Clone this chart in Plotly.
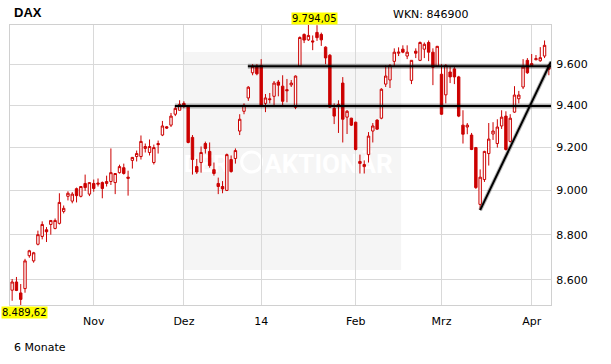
import math
import pandas as pd
import plotly.graph_objects as go

# ---- data -------------------------------------------------------------
holidays = ["2013-12-24", "2013-12-25", "2013-12-26", "2013-12-31", "2014-01-01"]
dates = [d.strftime("%Y-%m-%d") for d in pd.bdate_range("2013-10-07", "2014-04-07")
         if d.strftime("%Y-%m-%d") not in holidays]

opens = [8554, 8590, 8542, 8561, 8706, 8683, 8757, 8792, 8822, 8846,
         8828, 8851, 8905, 8974, 8952, 9009, 8974, 9033, 8984, 9033,
         9035, 9037, 9033, 9042, 9037, 9083, 9106, 9062, 9140, 9158,
         9158, 9196, 9177, 9130, 9219, 9259, 9298, 9306, 9358, 9377,
         9410, 9397, 9248, 9111, 9130, 9219, 9182, 9097, 9033, 9019,
         9001, 9144, 9149, 9278, 9372, 9436, 9558, 9590, 9594, 9410,
         9432, 9444, 9513, 9493, 9476, 9499, 9391, 9590, 9747, 9720,
         9715, 9757, 9747, 9684, 9644, 9386, 9405, 9508, 9344, 9339,
         9320, 9135, 9111, 9167, 9278, 9330, 9339, 9503, 9523, 9614,
         9654, 9674, 9640, 9521, 9664, 9619, 9674, 9707, 9659, 9590,
         9551, 9451, 9562, 9577, 9538, 9306, 9297, 9259, 9200, 8937,
         9051, 9172, 9264, 9219, 9302, 9349, 9229, 9368, 9432, 9489,
         9619, 9594, 9622, 9617, 9640, 9594]
highs = [8603, 8612, 8581, 8692, 8732, 8723, 8818, 8860, 8834, 8866,
         8873, 8988, 8932, 8997, 8993, 9014, 9019, 9074, 9038, 9051,
         9056, 9042, 9069, 9196, 9079, 9120, 9125, 9092, 9156, 9186,
         9257, 9219, 9238, 9214, 9233, 9326, 9302, 9364, 9396, 9425,
         9420, 9400, 9259, 9147, 9205, 9228, 9224, 9130, 9060, 9044,
         9172, 9163, 9196, 9358, 9410, 9493, 9600, 9600, 9625, 9455,
         9460, 9518, 9523, 9546, 9528, 9523, 9545, 9737, 9752, 9794.05,
         9742, 9793, 9756, 9688, 9650, 9410, 9425, 9537, 9378, 9341,
         9322, 9167, 9140, 9273, 9316, 9334, 9483, 9594, 9600, 9678,
         9683, 9693, 9693, 9619, 9678, 9712, 9707, 9717, 9678, 9690,
         9600, 9600, 9586, 9586, 9543, 9377, 9316, 9269, 9203, 9098,
         9185, 9316, 9320, 9334, 9377, 9372, 9358, 9493, 9470, 9625,
         9630, 9650, 9645, 9684, 9717, 9600]
lows = [8508, 8550, 8489.62, 8543, 8697, 8675, 8752, 8779, 8767, 8800,
        8824, 8846, 8896, 8955, 8942, 8946, 8969, 8999, 8975, 8995,
        9019, 8965, 9019, 9026, 8984, 9079, 9074, 8977, 9102, 9135,
        9144, 9177, 9163, 9121, 9172, 9254, 9288, 9297, 9349, 9377,
        9387, 9220, 9074, 9077, 9083, 9172, 9106, 9069, 8984, 8988,
        8998, 9083, 9125, 9259, 9358, 9422, 9546, 9546, 9394, 9368,
        9410, 9400, 9444, 9396, 9415, 9489, 9382, 9586, 9704, 9715,
        9669, 9715, 9690, 9600, 9388, 9311, 9269, 9224, 9264, 9302,
        9187, 9079, 9079, 9130, 9224, 9283, 9334, 9489, 9484, 9590,
        9640, 9654, 9625, 9503, 9630, 9615, 9630, 9615, 9498, 9586,
        9355, 9410, 9508, 9503, 9344, 9219, 9263, 9188, 9008, 8913,
        9040, 9116, 9236, 9200, 9288, 9186, 9224, 9365, 9410, 9479,
        9553, 9590, 9619, 9612, 9630, 9546]
closes = [8590, 8553, 8514, 8683, 8728, 8719, 8800, 8846, 8813, 8864,
          8864, 8946, 8919, 8988, 8984, 8977, 9019, 9014, 9037, 9010,
          9030, 9010, 9042, 9083, 9079, 9111, 9079, 9057, 9154, 9172,
          9229, 9205, 9205, 9200, 9214, 9302, 9292, 9349, 9386, 9405,
          9401, 9224, 9144, 9086, 9177, 9196, 9116, 9079, 9019, 9008,
          9167, 9088, 9186, 9334, 9401, 9488, 9590, 9553, 9396, 9436,
          9428, 9508, 9498, 9420, 9471, 9508, 9542, 9732, 9719, 9742,
          9710, 9731, 9720, 9631, 9392, 9349, 9396, 9334, 9372, 9306,
          9191, 9126, 9121, 9254, 9302, 9287, 9478, 9542, 9594, 9659,
          9659, 9659, 9659, 9619, 9654, 9707, 9698, 9659, 9585, 9688,
          9358, 9594, 9538, 9538, 9349, 9263, 9306, 9191, 9014, 9062,
          9182, 9240, 9278, 9297, 9344, 9191, 9339, 9450, 9450, 9586,
          9558, 9603, 9627, 9632, 9693, 9575]

month_starts = ["2013-11-01", "2013-12-02", "2014-01-02", "2014-02-03", "2014-03-03", "2014-04-01"]
month_labels = ["Nov", "Dez", "14", "Feb", "Mrz", "Apr"]
y_ticks = [8600, 8800, 9000, 9200, 9400, 9600]
y_tick_labels = ["8.600", "8.800", "9.000", "9.200", "9.400", "9.600"]

# drawn analysis lines (level, start position in trading-day index)
resistance_levels = [9590, 9397]
resistance_starts = [54.9, 37.9]
trend_x = [109.0, 125.5]
trend_y = [8911, 9612]

# ---- figure -----------------------------------------------------------
idx = list(range(len(dates)))
RED = "#cc0000"
FONT = "DejaVu Sans"
y_min, y_max = min(lows), max(highs)


def de_num(v):
    return f"{v:,.2f}".replace(",", "X").replace(".", ",").replace("X", ".")


fig = go.Figure()
fig.add_trace(go.Candlestick(
    x=idx, open=opens, high=highs, low=lows, close=closes,
    increasing=dict(line=dict(color=RED, width=1), fillcolor="white"),
    decreasing=dict(line=dict(color=RED, width=1), fillcolor=RED),
    whiskerwidth=0, showlegend=False, hoverinfo="skip"))

x_end = len(dates) - 0.5
for lvl, st in zip(resistance_levels, resistance_starts):
    fig.add_trace(go.Scatter(x=[st, x_end], y=[lvl, lvl], mode="lines",
                             line=dict(color="rgba(0,0,0,0.28)", width=5),
                             showlegend=False, hoverinfo="skip"))
    fig.add_trace(go.Scatter(x=[st, x_end], y=[lvl, lvl], mode="lines",
                             line=dict(color="black", width=2),
                             showlegend=False, hoverinfo="skip"))
fig.add_trace(go.Scatter(x=trend_x, y=trend_y, mode="lines",
                         line=dict(color="rgba(0,0,0,0.28)", width=4),
                         showlegend=False, hoverinfo="skip"))
fig.add_trace(go.Scatter(x=trend_x, y=trend_y, mode="lines",
                         line=dict(color="black", width=2),
                         showlegend=False, hoverinfo="skip"))

# watermark box + text (below everything)
fig.add_shape(type="rect", xref="paper", yref="paper", x0=0.3196, x1=0.723,
              y0=0.125, y1=0.9036, fillcolor="#f5f5f5", line=dict(width=0), layer="below")
fig.add_shape(type="circle", xref="paper", yref="paper", x0=0.4282, x1=0.4652,
              y0=0.475, y1=0.5464, fillcolor="rgba(0,0,0,0)", line=dict(width=3, color="white"),
              layer="below")
fig.add_shape(type="rect", xref="paper", yref="paper", x0=0.4713, x1=0.7063,
              y0=0.475, y1=0.5464, fillcolor="rgba(0,0,0,0)", line=dict(width=0), layer="below",
              label=dict(text="<b>AKTIONÄR</b>", font=dict(family="Roboto", size=26, color="white"),
                         textposition="middle center"))
fig.add_shape(type="rect", xref="paper", yref="paper", x0=0.325, x1=0.40,
              y0=0.475, y1=0.5464, fillcolor="rgba(0,0,0,0)", line=dict(width=0), layer="below",
              label=dict(text="<b>DER</b>", font=dict(family="Roboto", size=24, color="white"),
                         textposition="middle center"))

ann = [
    dict(text="<b>DAX</b>", xref="paper", yref="paper", x=0.0037, y=1.0454,
         xanchor="left", yanchor="middle", showarrow=False,
         font=dict(family="Liberation Sans", size=13, color="black")),
    dict(text="WKN: 846900", xref="paper", yref="paper", x=0.7045, y=1.039,
         xanchor="left", yanchor="middle", showarrow=False,
         font=dict(family=FONT, size=11, color="black")),
    dict(text="6 Monate", xref="paper", yref="paper", x=0.0037, y=-0.15,
         xanchor="left", yanchor="middle", showarrow=False,
         font=dict(family=FONT, size=11, color="black")),
    dict(text=de_num(y_max), xref="paper", yref="paper", x=0.5194, y=1.0,
         xanchor="left", yanchor="bottom", showarrow=False, bgcolor="#ffff00", borderpad=0,
         font=dict(family=FONT, size=10, color="black")),
    dict(text=de_num(y_min), xref="paper", yref="paper", x=-0.0159, y=-0.0036,
         xanchor="left", yanchor="top", showarrow=False, bgcolor="#ffff00", borderpad=0,
         font=dict(family=FONT, size=10, color="black")),
]

tick_pos = [dates.index(d) for d in month_starts]

fig.update_layout(
    width=611, height=364,
    margin=dict(l=10, r=60, t=25, b=59),
    paper_bgcolor="white", plot_bgcolor="rgba(0,0,0,0)",
    boxgap=0.2,
    annotations=ann,
    xaxis=dict(type="linear", range=[-0.5, len(dates) - 0.5], rangeslider=dict(visible=False),
               tickvals=tick_pos, ticktext=month_labels, showgrid=True, gridcolor="#d9d9d9",
               gridwidth=1, zeroline=False, showline=True, mirror=True, linecolor="#d0d0d0",
               linewidth=1, ticks="outside", ticklen=6, tickcolor="rgba(0,0,0,0)",
               tickfont=dict(family=FONT, size=11, color="black")),
    yaxis=dict(type="log", range=[math.log10(y_min), math.log10(y_max)],
               side="right", tickvals=y_ticks, ticktext=y_tick_labels, showgrid=True,
               gridcolor="#d9d9d9", gridwidth=1, zeroline=False, showline=True, mirror=True,
               linecolor="#d0d0d0", linewidth=1, ticks="outside", ticklen=2,
               tickcolor="rgba(0,0,0,0)", tickfont=dict(family=FONT, size=11, color="black")),
)

fig.write_html("out.html")
